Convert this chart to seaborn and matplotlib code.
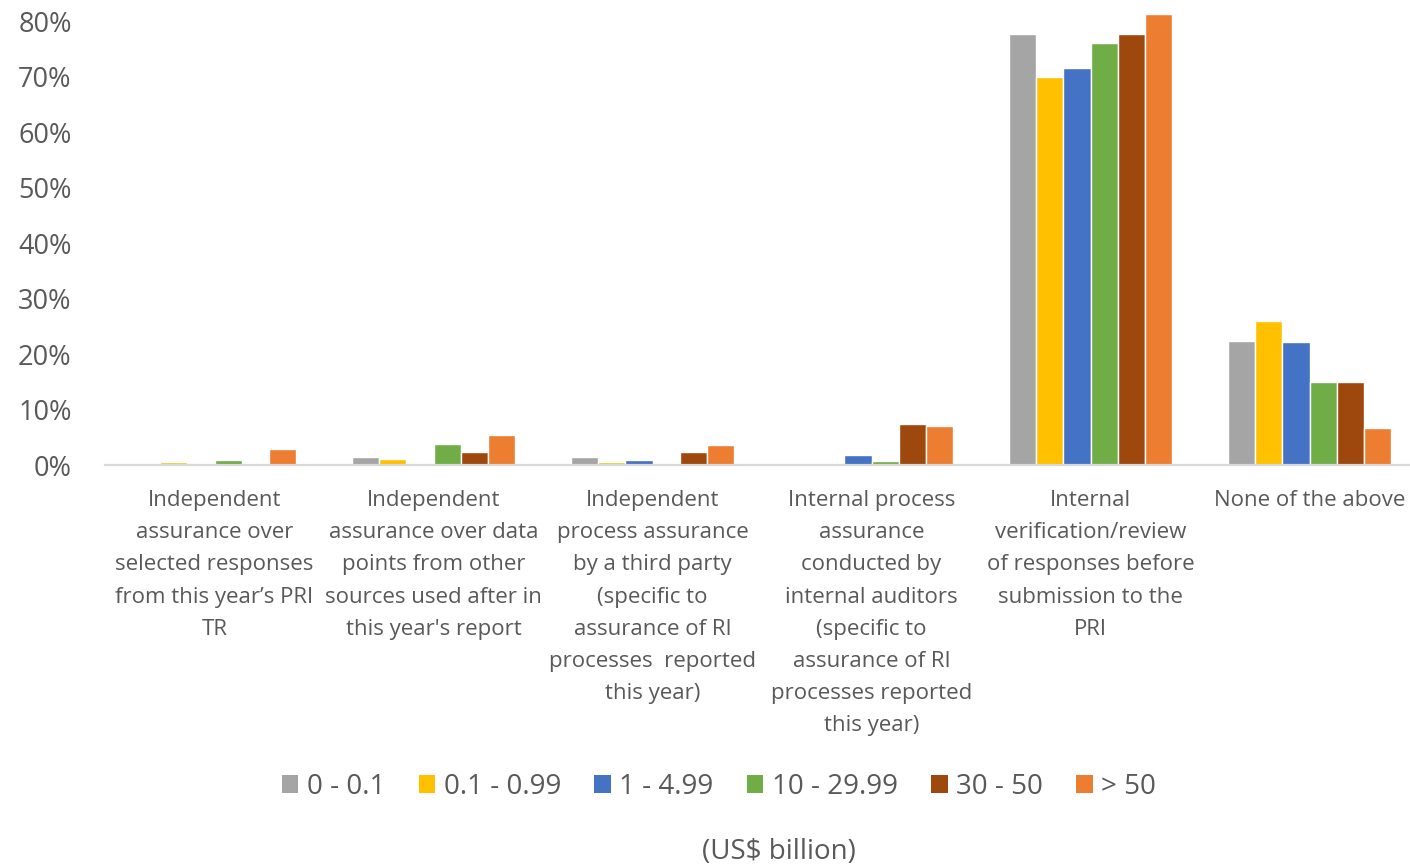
import matplotlib
matplotlib.use("Agg")
import matplotlib.pyplot as plt
import seaborn as sns
import pandas as pd
from matplotlib.patches import Patch
from matplotlib.ticker import FuncFormatter

categories = [
    "Independent\nassurance over\nselected responses\nfrom this year’s PRI\nTR",
    "Independent\nassurance over data\npoints from other\nsources used after in\nthis year's report",
    "Independent\nprocess assurance\nby a third party\n(specific to\nassurance of RI\nprocesses  reported\nthis year)",
    "Internal process\nassurance\nconducted by\ninternal auditors\n(specific to\nassurance of RI\nprocesses reported\nthis year)",
    "Internal\nverification/review\nof responses before\nsubmission to the\nPRI",
    "None of the above",
]
aum_bands = ["0 - 0.1", "0.1 - 0.99", "1 - 4.99", "10 - 29.99", "30 - 50", "> 50"]

# share of signatories per AUM band, one list per band (fractions)
band_0_01 = [0.000, 0.014, 0.014, 0.000, 0.776, 0.224]
band_01_099 = [0.006, 0.011, 0.006, 0.003, 0.700, 0.259]
band_1_499 = [0.0035, 0.0035, 0.0085, 0.018, 0.715, 0.222]
band_10_2999 = [0.0085, 0.038, 0.000, 0.008, 0.760, 0.149]
band_30_50 = [0.000, 0.023, 0.023, 0.074, 0.776, 0.149]
band_over_50 = [0.028, 0.054, 0.036, 0.070, 0.812, 0.066]

series = [band_0_01, band_01_099, band_1_499, band_10_2999, band_30_50, band_over_50]
palette = ["#A5A5A5", "#FFC000", "#4472C4", "#70AD47", "#9E480E", "#ED7D31"]

rows = []
for band, vals in zip(aum_bands, series):
    for cat, v in zip(categories, vals):
        rows.append({"category": cat, "band": band, "share": v})
df = pd.DataFrame(rows)

sns.set_theme(style="white")
plt.rcParams["font.family"] = ["Open Sans", "DejaVu Sans"]

fig = plt.figure(figsize=(14.10, 8.66), dpi=100)
ax = fig.add_axes([105 / 1410, 1 - 465 / 866, 1314 / 1410, 465 / 866])

sns.barplot(
    data=df, x="category", y="share", hue="band",
    order=categories, hue_order=aum_bands, palette=palette,
    width=0.74, ax=ax, legend=False, saturation=1,
)

ax.set_ylim(0, 0.838)
ax.set_xlim(-0.5, 5.5)
ax.set_yticks([i / 10 for i in range(9)])
ax.yaxis.set_major_formatter(FuncFormatter(lambda v, p: f"{v*100:.0f}%"))
ax.tick_params(axis="y", labelsize=19.5, labelcolor="#595959", length=0, pad=24)
ax.tick_params(axis="x", labelsize=16, labelcolor="#595959", length=0, pad=18)
for lbl in ax.get_xticklabels():
    lbl.set_linespacing(1.7)
    lbl.set_va("top")
ax.set_xlabel("")
ax.set_ylabel("")
for side in ["top", "right", "left"]:
    ax.spines[side].set_visible(False)
ax.spines["bottom"].set_color("#D9D9D9")
ax.spines["bottom"].set_linewidth(1.6)
ax.grid(False)

handles = [Patch(facecolor=c, edgecolor="none") for c in palette]
fig.legend(
    handles, aum_bands, loc="center", bbox_to_anchor=(719 / 1410, 1 - 787 / 866),
    ncol=6, frameon=False, fontsize=20, handlelength=0.6, handleheight=0.6,
    handletextpad=0.3, columnspacing=1.2, labelcolor="#595959",
)
fig.text(779 / 1410, 1 - 852 / 866, "(US$ billion)", ha="center", va="center",
         fontsize=20, color="#595959")

fig.savefig("out.png", dpi=100)
